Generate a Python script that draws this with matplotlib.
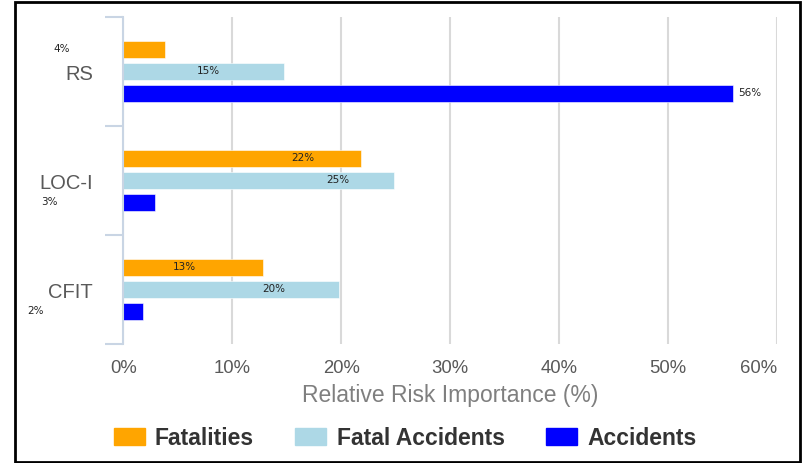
import matplotlib.pyplot as plt
import matplotlib.patches as mpatches
import numpy as np

plt.rcParams['font.family'] = ['Liberation Sans', 'DejaVu Sans']

# data
categories = ['CFIT', 'LOC-I', 'RS']
series = ['Fatalities', 'Fatal Accidents', 'Accidents']
fatalities = [12.8, 21.8, 3.8]
fatal_accidents = [19.8, 24.8, 14.7]
accidents = [1.8, 2.9, 56.0]
colors = ['#FFA500', '#ADD8E6', '#0000FF']

# where each value label sits (x in data units), same order as the data
label_x = [
    [5.6, 16.5, -5.7],
    [13.8, 19.7, 7.8],
    [-8.1, -6.8, 56.4],
]

W, H = 803, 464
fig = plt.figure(figsize=(W / 100, H / 100), dpi=100)
ax = fig.add_axes([123.5 / W, 1 - 345 / H, (777 - 123.5) / W, (345 - 18) / H])

y = np.arange(len(categories))
offsets = [0.2, 0.0, -0.2]
values = [fatalities, fatal_accidents, accidents]

for vals, off, col, name, lx in zip(values, offsets, colors, series, label_x):
    ax.barh(y + off, vals, height=0.158, color=col, edgecolor='white',
            linewidth=0.4, label=name, zorder=3)
    for yi, v, xi in zip(y, vals, lx):
        ha = 'left' if xi > v else 'center'
        ax.text(xi, yi + off + 0.015, '%d%%' % round(v), ha=ha, va='center',
                fontsize=7.5, color='#222222', family='DejaVu Sans', zorder=4)

ax.set_xlim(0, 60)
ax.set_ylim(-0.5, 2.5)

ax.set_xticks(np.arange(0, 61, 10))
ax.set_xticklabels(['%d%%' % t for t in range(0, 61, 10)])
ax.get_xticklabels()[-1].set_ha('right')
ax.tick_params(axis='x', length=0, pad=11, labelsize=13.3, labelcolor='#595959')
ax.xaxis.grid(True, color='#d9d9d9', linewidth=1.5, zorder=0)

ax.set_yticks(y)
ax.set_yticklabels(categories)
ax.set_yticks([-0.5, 0.5, 1.5, 2.5], minor=True)
ax.tick_params(axis='y', which='major', length=0, pad=22, labelsize=14.5,
               labelcolor='#595959')
ax.tick_params(axis='y', which='minor', length=13, width=1.5, color='#c9d5e4')

for s in ['top', 'right', 'bottom']:
    ax.spines[s].set_visible(False)
ax.spines['left'].set_color('#c9d5e4')
ax.spines['left'].set_linewidth(1.5)
ax.spines['left'].set_zorder(5)

ax.set_xlabel('Relative Risk Importance (%)', fontsize=16.5, color='#7f7f7f',
              labelpad=5)

handles = [mpatches.Patch(color=c, label=s) for c, s in zip(colors, series)]
fig.legend(handles=handles, loc='center', ncol=3, frameon=False,
           bbox_to_anchor=(405 / W, 1 - 439 / H),
           prop={'weight': 'bold', 'size': 16.5},
           handlelength=1.35, handleheight=0.75, handletextpad=0.45,
           columnspacing=1.8, labelcolor='#333333')

# outer frame
fig.patches.append(mpatches.Rectangle((15 / W, 1 / H), (800 - 15) / W, (461 - 1) / H,
                                      transform=fig.transFigure, fill=False,
                                      edgecolor='black', linewidth=2))

fig.savefig('out.png', dpi=100)
